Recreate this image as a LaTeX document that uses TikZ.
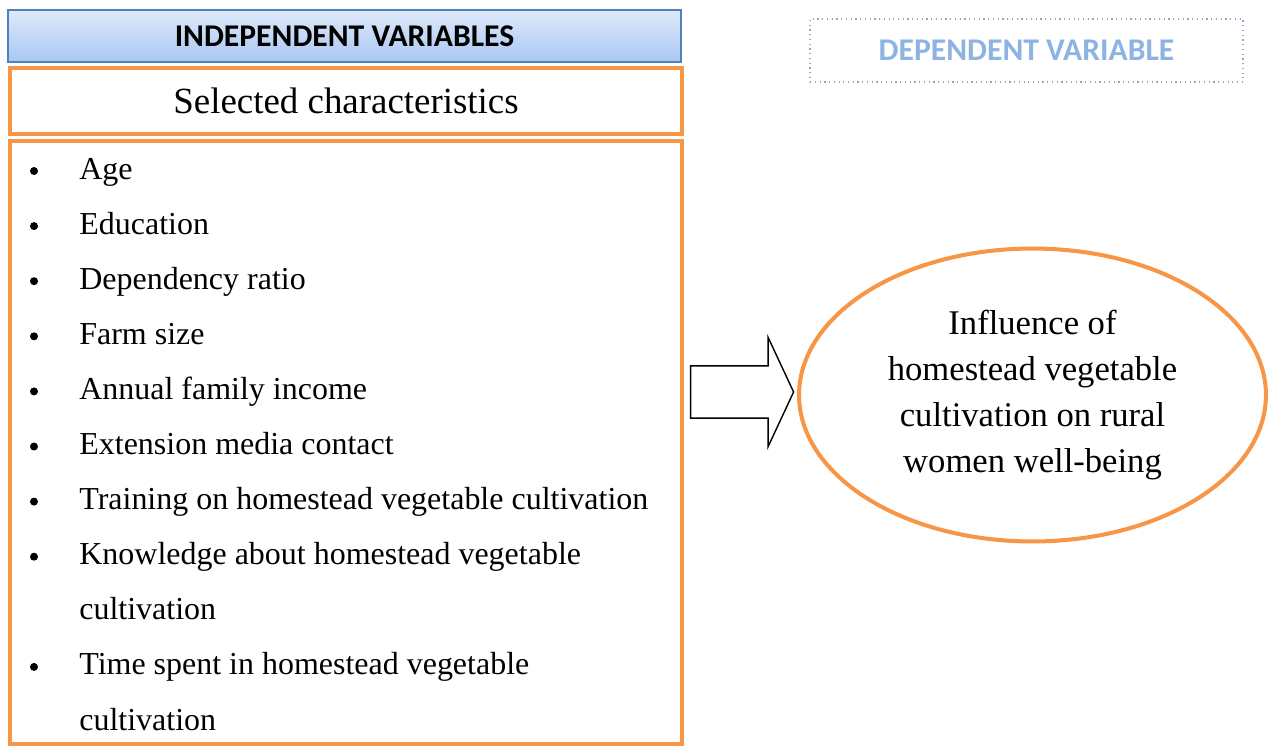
\documentclass[tikz,border=0pt]{standalone}
\usepackage{fontspec}
\setmainfont{Liberation Serif}
\newfontfamily\headfont{Carlito}
\usepackage{xcolor}
\usetikzlibrary{positioning, shapes.geometric, shapes.arrows}

\definecolor{frameorange}{HTML}{F79646}
\definecolor{headblue}{HTML}{4F81BD}
\definecolor{headtop}{HTML}{DEE9F9}
\definecolor{headbottom}{HTML}{A9C7F3}
\definecolor{dotframe}{HTML}{A99BC9}
\definecolor{deptext}{HTML}{8DB3E2}

\begin{document}
\begin{tikzpicture}[
    x=0.02cm, y=-0.02cm,
    headbox/.style={draw=headblue, line width=0.8pt, top color=headtop, bottom color=headbottom,
                    minimum width=13.46cm, minimum height=1.04cm, inner sep=0pt,
                    font=\headfont\bfseries\fontsize{18}{20}\selectfont},
    orangebox/.style={draw=frameorange, line width=2.3pt, minimum width=13.44cm, inner sep=0pt},
    depbox/.style={draw=dotframe, dotted, line width=0.7pt, minimum width=8.66cm,
                   minimum height=1.26cm, inner sep=0pt, text=deptext,
                   font=\headfont\bfseries\fontsize{18}{20}\selectfont},
    listline/.style={anchor=base west, inner sep=0pt, font=\fontsize{18.2}{31.3}\selectfont},
    bulletmark/.style={circle, fill=black, minimum size=0.16cm, inner sep=0pt},
    outcome/.style={draw=frameorange, line width=2.3pt, ellipse, minimum width=9.34cm,
                    minimum height=5.86cm, inner sep=0pt, align=center,
                    font=\fontsize{19.7}{26.1}\selectfont},
    bigarrow/.style={draw, line width=0.8pt, single arrow, single arrow head extend=0.57cm,
                     single arrow tip angle=130, inner xsep=0pt, inner ysep=0.51cm,
                     minimum height=2.06cm},
]
    \useasboundingbox (0,0) rectangle (1272,747);

    % left column
    \node[headbox] (indep) at (344.5,36) {INDEPENDENT VARIABLES};
    \node[orangebox, minimum height=1.32cm, font=\fontsize{21}{24}\selectfont] (selchar) at (346,101) {Selected characteristics};
    \node[orangebox, minimum height=12.06cm, below=0.06cm of selchar] (charlist) {};

    \foreach \ln/\txt in {0/Age, 1/Education, 2/Dependency ratio, 3/Farm size,
        4/Annual family income, 5/Extension media contact,
        6/Training on homestead vegetable cultivation,
        7/Knowledge about homestead vegetable, 8/cultivation,
        9/Time spent in homestead vegetable, 10/cultivation}
        \node[listline] (line\ln) at (79,{179+55.1*\ln}) {\txt};
    \foreach \ln in {0,...,7,9}
        \node[bulletmark] (dot\ln) at (34,{171+55.1*\ln}) {};

    % right column
    \node[depbox] (dep) at (1026.5,50.5) {DEPENDENT VARIABLE};
    \node[outcome] (wellbeing) at (1032.5,395) {Influence of\\homestead vegetable\\cultivation on rural\\women well-being};

    \node[bigarrow] (link) at (736,392) {};
\end{tikzpicture}
\end{document}
